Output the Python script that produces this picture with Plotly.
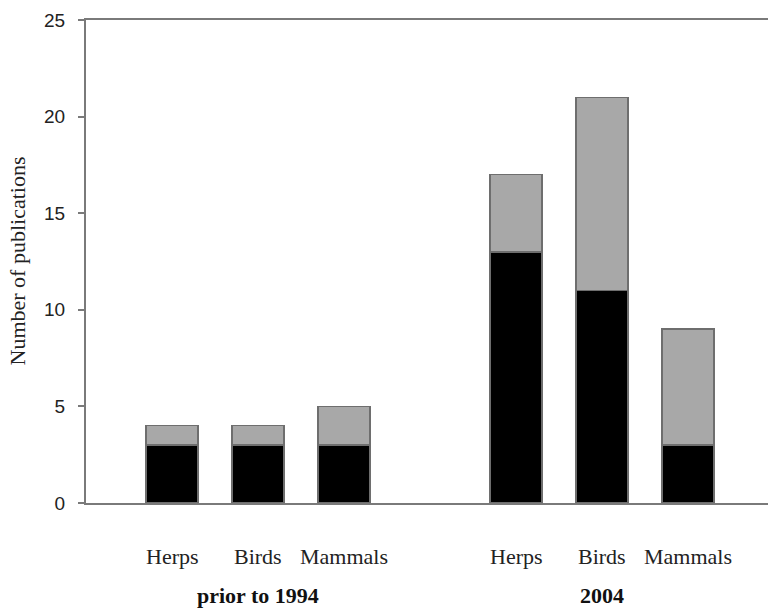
import plotly.graph_objects as go

categories = ["Herps", "Birds", "Mammals", "Herps", "Birds", "Mammals"]
positions = [1, 2, 3, 5, 6, 7]
group_labels = ["prior to 1994", "2004"]
group_centers = [2, 6]
black_values = [3, 3, 3, 13, 11, 3]
gray_values = [1, 1, 2, 4, 10, 6]
y_ticks = [0, 5, 10, 15, 20, 25]

serif = "Liberation Serif, Times New Roman, serif"
sans = "Liberation Sans, Arial, sans-serif"

fig = go.Figure()
fig.add_trace(go.Bar(x=positions, y=black_values, width=0.6,
                     marker=dict(color="#000000", line=dict(color="#6e6e6e", width=1.5)),
                     showlegend=False, hoverinfo="skip"))
fig.add_trace(go.Bar(x=positions, y=gray_values, width=0.6,
                     marker=dict(color="#a8a8a8", line=dict(color="#6e6e6e", width=1.5)),
                     showlegend=False, hoverinfo="skip"))

annotations = []
for p, c in zip(positions, categories):
    annotations.append(dict(x=p, y=0, xref="x", yref="paper", text=c, showarrow=False,
                            yshift=-53, yanchor="middle", font=dict(family=serif, size=22, color="#222")))
for p, g in zip(group_centers, group_labels):
    annotations.append(dict(x=p, y=0, xref="x", yref="paper", text="<b>" + g + "</b>", showarrow=False,
                            yshift=-107, yanchor="bottom", font=dict(family=serif, size=22, color="#111")))
annotations.append(dict(x=0, y=0.5, xref="paper", yref="paper", text="Number of publications",
                        textangle=-90, showarrow=False, xshift=-69, xanchor="center",
                        font=dict(family=serif, size=22, color="#222")))

fig.update_layout(
    barmode="stack",
    width=768, height=611,
    margin=dict(l=86, r=0, t=20, b=108),
    plot_bgcolor="white", paper_bgcolor="white",
    annotations=annotations,
    xaxis=dict(range=[0, 7.93], showticklabels=False, ticks="", showgrid=False, zeroline=False,
               showline=True, mirror=True, linecolor="#7a7a7a", linewidth=2),
    yaxis=dict(range=[0, 25], tickvals=y_ticks, ticks="outside", ticklen=6, tickwidth=2,
               tickcolor="#7a7a7a", showgrid=False, zeroline=False, showline=True,
               linecolor="#7a7a7a", linewidth=2, ticklabelstandoff=9,
               tickfont=dict(family=sans, size=19, color="#222")),
)

fig.write_html("out.html", config={"displayModeBar": False},
               post_script="document.body.style.margin='0';")
